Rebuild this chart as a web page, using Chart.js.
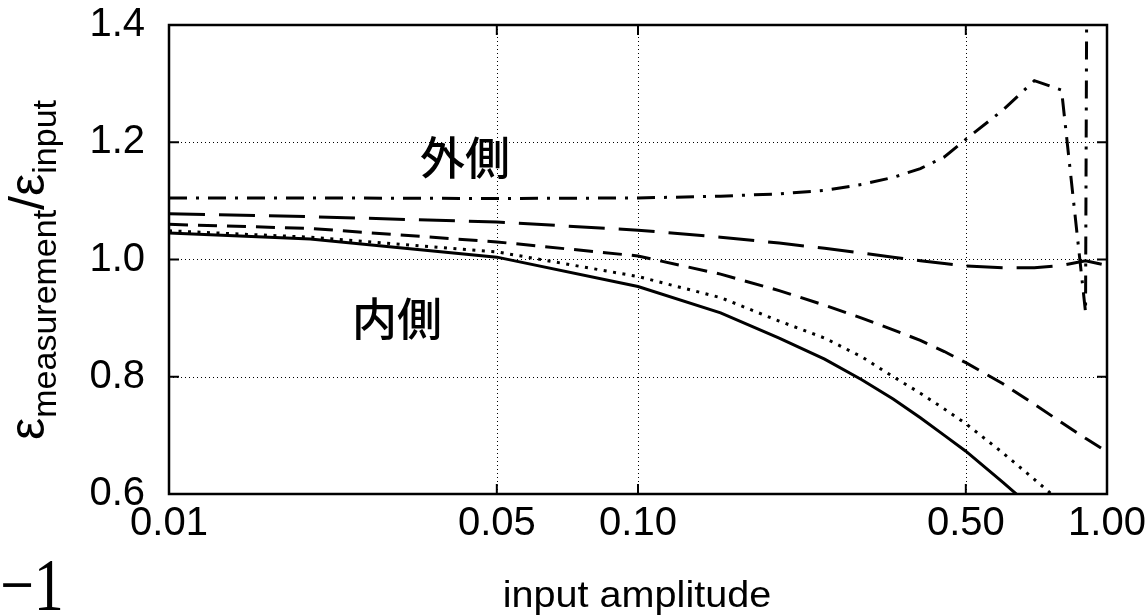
<!DOCTYPE html>
<html><head><meta charset="utf-8">
<script src="https://cdn.jsdelivr.net/npm/chart.js@4.4.0/dist/chart.umd.min.js"></script>
<style>html,body{margin:0;padding:0;background:#fff;}#wrap{width:1148px;height:616px;position:relative}canvas{display:block}</style>
</head><body><div id="wrap"><canvas id="c" width="1148" height="616"></canvas></div>
<script>
// ---- data ----
const amplitude = [0.01,0.02,0.05,0.1,0.15,0.2,0.25,0.3,0.35,0.4,0.45,0.5,0.6,0.7,0.8,0.9,1.0];
const seriesSolid     = [1.045,1.035,1.004,0.954,0.909,0.866,0.830,0.795,0.762,0.730,0.700,0.673,0.620,0.573,0.525,0.475,0.425];
const seriesDotted    = [1.049,1.038,1.013,0.971,0.935,0.895,0.866,0.834,0.800,0.772,0.745,0.720,0.670,0.625,0.585,0.550,0.515];
const seriesShortDash = [1.060,1.053,1.030,1.006,0.975,0.947,0.922,0.900,0.880,0.862,0.843,0.824,0.788,0.753,0.722,0.695,0.672];
const seriesLongDash  = [1.078,1.073,1.064,1.050,1.038,1.028,1.019,1.011,1.004,0.998,0.993,0.989,0.986,0.986,0.990,0.998,0.990];
const amplitudeOuter  = [0.01,0.02,0.05,0.1,0.15,0.2,0.25,0.3,0.35,0.4,0.45,0.5,0.6,0.7,0.8,0.9,0.95];
const seriesDashDot   = [1.105,1.105,1.104,1.105,1.108,1.112,1.118,1.128,1.140,1.155,1.175,1.205,1.255,1.305,1.289,0.910,6.0];
const xTickValues = [0.01,0.05,0.1,0.5,1.0];
const yTickValues = [0.6,0.8,1.0,1.2,1.4];
const labelOuter = '外側';
const labelInner = '内側';
const xTitle = 'input amplitude';
const cornerText = '\u22121';

const toPts = (xs, ys) => xs.map((x, i) => ({x: x, y: ys[i]}));
const ds = (ys, xs, dash, w) => ({
  data: toPts(xs, ys), borderColor: '#000', backgroundColor: '#000', borderWidth: w || 3,
  borderDash: dash, pointRadius: 0, tension: 0, fill: false, clip: 0,
  borderCapStyle: 'butt', borderJoinStyle: 'miter'
});

const decor = {
  id: 'decor',
  beforeDatasetsDraw(chart) {
    const {ctx, chartArea: a, scales: {x, y}} = chart;
    ctx.save();
    ctx.strokeStyle = '#000'; ctx.lineWidth = 1; ctx.setLineDash([1, 3]);
    yTickValues.slice(1, -1).forEach(v => {
      const py = Math.round(y.getPixelForValue(v)) + 0.5;
      ctx.beginPath(); ctx.moveTo(a.left, py); ctx.lineTo(a.right, py); ctx.stroke();
    });
    xTickValues.slice(1, -1).forEach(v => {
      const px = Math.round(x.getPixelForValue(v)) + 0.5;
      ctx.beginPath(); ctx.moveTo(px, a.top); ctx.lineTo(px, a.bottom); ctx.stroke();
    });
    ctx.restore();
  },
  afterDatasetsDraw(chart) {
    const {ctx, chartArea: a, scales: {x, y}} = chart;
    ctx.save();
    ctx.strokeStyle = '#000'; ctx.setLineDash([]);
    ctx.lineWidth = 2;
    const tl = 10;
    yTickValues.slice(1, -1).forEach(v => {
      const py = y.getPixelForValue(v);
      ctx.beginPath(); ctx.moveTo(a.left, py); ctx.lineTo(a.left + tl, py);
      ctx.moveTo(a.right, py); ctx.lineTo(a.right - tl, py); ctx.stroke();
    });
    xTickValues.slice(1, -1).forEach(v => {
      const px = x.getPixelForValue(v);
      ctx.beginPath(); ctx.moveTo(px, a.bottom); ctx.lineTo(px, a.bottom - tl);
      ctx.moveTo(px, a.top); ctx.lineTo(px, a.top + tl); ctx.stroke();
    });
    ctx.lineWidth = 2.5;
    ctx.strokeRect(a.left, a.top, a.right - a.left, a.bottom - a.top);
    ctx.restore();

    // annotations
    ctx.save();
    ctx.fillStyle = '#000';
    ctx.font = '500 45px "Noto Sans CJK JP"';
    ctx.textAlign = 'center'; ctx.textBaseline = 'middle';
    ctx.fillText(labelOuter, 465, 158);
    ctx.fillText(labelInner, 397, 319);
    ctx.restore();

    // x title
    ctx.save();
    ctx.fillStyle = '#000';
    ctx.font = '36px "Liberation Sans"';
    ctx.textAlign = 'center'; ctx.textBaseline = 'alphabetic';
    ctx.translate(637, 607);
    ctx.scale(1.1, 1);
    ctx.fillText(xTitle, 0, 0);
    ctx.restore();

    // y title with subscripts
    ctx.save();
    ctx.fillStyle = '#000';
    ctx.translate(44, 270);
    ctx.rotate(-Math.PI / 2);
    const segs = [
      {t: 'ε', f: '50px "Liberation Sans"', dy: 0},
      {t: 'measurement', f: '34px "Liberation Sans"', dy: 12},
      {t: '/', f: '50px "Liberation Sans"', dy: 0},
      {t: 'ε', f: '50px "Liberation Sans"', dy: 0},
      {t: 'input', f: '34px "Liberation Sans"', dy: 12}
    ];
    let total = 0;
    segs.forEach(s => { ctx.font = s.f; s.w = ctx.measureText(s.t).width; total += s.w; });
    let cx = -total / 2;
    ctx.textBaseline = 'alphabetic'; ctx.textAlign = 'left';
    segs.forEach(s => { ctx.font = s.f; ctx.fillText(s.t, cx, s.dy); cx += s.w; });
    ctx.restore();

    // corner "−1"
    ctx.save();
    ctx.fillStyle = '#000';
    ctx.font = '60px "Liberation Serif"';
    ctx.textAlign = 'left'; ctx.textBaseline = 'alphabetic';
    ctx.translate(0, 610);
    ctx.scale(1, 1.25);
    ctx.fillText(cornerText, 0, 0);
    ctx.restore();
  }
};

new Chart(document.getElementById('c'), {
  type: 'line',
  data: {
    datasets: [
      ds(seriesSolid, amplitude, []),
      ds(seriesDotted, amplitude, [3, 6.5], 3),
      ds(seriesShortDash, amplitude, [19, 10]),
      ds(seriesLongDash, amplitude, [36, 14]),
      ds(seriesDashDot, amplitudeOuter, [18, 9, 3, 9])
    ]
  },
  options: {
    responsive: false, animation: false, devicePixelRatio: 1,
    layout: {padding: {left: 0, right: 41, top: 25, bottom: 0}},
    plugins: {legend: {display: false}, tooltip: {enabled: false}, title: {display: false}},
    scales: {
      x: {
        type: 'logarithmic', min: 0.01, max: 1,
        afterBuildTicks: s => { s.ticks = xTickValues.map(v => ({value: v})); },
        afterFit: s => { s.height = 122; s.paddingLeft = 0; s.paddingRight = 0; },
        grid: {display: false, drawTicks: false}, border: {display: false},
        ticks: {autoSkip: false, maxRotation: 0, minRotation: 0, padding: 6, color: '#000',
          font: {family: '"Liberation Sans"', size: 40},
          callback: v => Number(v).toFixed(2)}
      },
      y: {
        type: 'linear', min: 0.6, max: 1.4,
        afterBuildTicks: s => { s.ticks = yTickValues.map(v => ({value: v})); },
        afterFit: s => { s.width = 169; s.paddingTop = 0; s.paddingBottom = 0; },
        grid: {display: false, drawTicks: false}, border: {display: false},
        ticks: {padding: 24, color: '#000', font: {family: '"Liberation Sans"', size: 40},
          callback: v => Number(v).toFixed(1)}
      }
    }
  },
  plugins: [decor]
});
</script></body></html>
